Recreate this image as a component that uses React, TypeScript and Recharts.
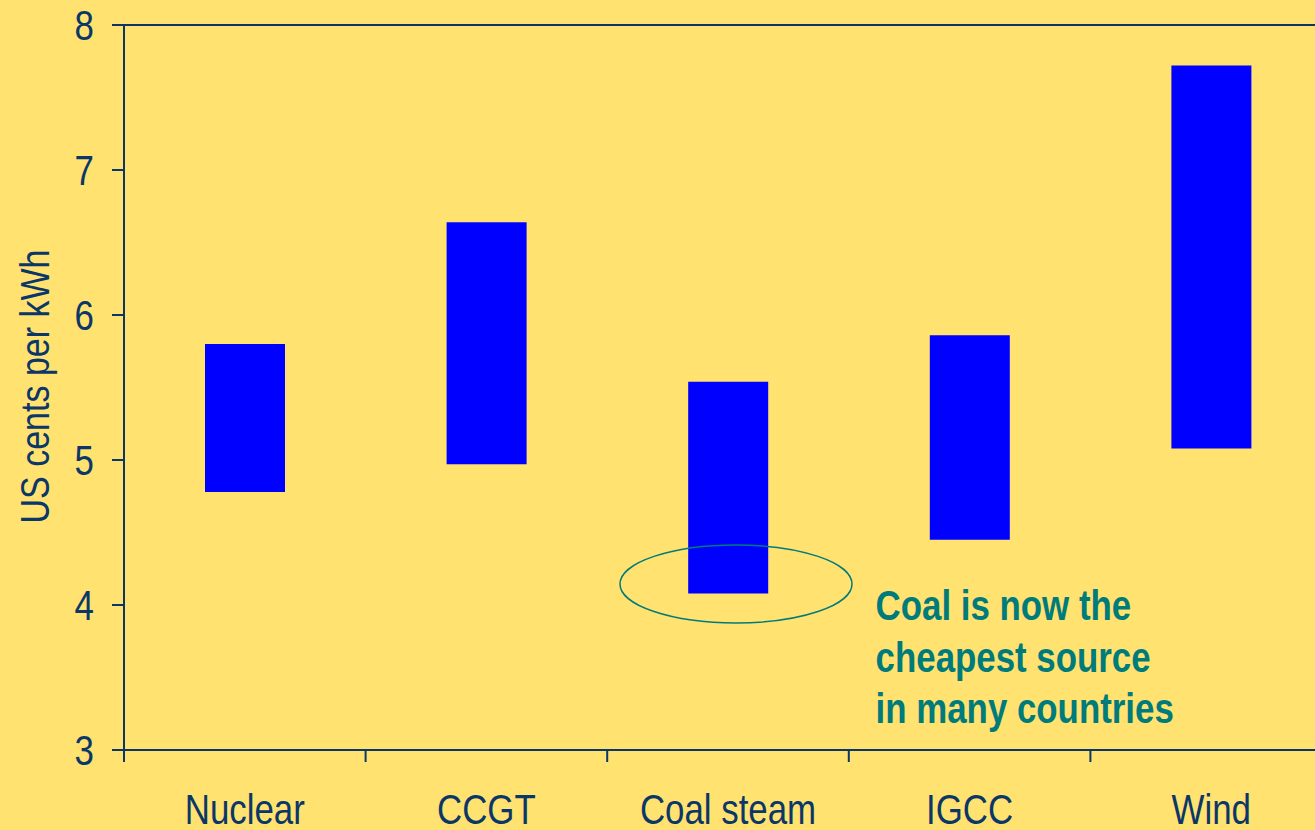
import React from 'react';
import { BarChart, Bar, XAxis, YAxis, ReferenceLine, ReferenceDot } from 'recharts';

const sources = ['Nuclear', 'CCGT', 'Coal steam', 'IGCC', 'Wind'];
const lowCost = [4.78, 4.97, 4.08, 4.45, 5.08];
const highCost = [5.8, 6.64, 5.54, 5.86, 7.72];
const yTicks = [3, 4, 5, 6, 7, 8];
const noteLines = ['Coal is now the', 'cheapest source', 'in many countries'];

const BG = '#FFE270';
const AXIS = '#0B3768';
const TEAL = '#007B7B';
const FONT = '"Liberation Sans", Arial, sans-serif';
const SQUEEZE = 0.83; // the original uses a narrow face

const CHART_W = 1332;
const PLOT_LEFT = 124;
const BAND = (CHART_W - PLOT_LEFT) / sources.length;

const data = sources.map((name, i) => ({ name, range: [lowCost[i], highCost[i]] }));

// narrow text: draw at the anchor and squeeze horizontally
const NarrowText = ({ x, y, anchor = 'start', size, fill, bold = false, rotate = 0, children }: any) => (
    <text
        transform={`translate(${x},${y}) rotate(${rotate}) scale(${SQUEEZE},1)`}
        textAnchor={anchor}
        fill={fill}
        fontSize={size}
        fontWeight={bold ? 'bold' : 'normal'}
        fontFamily={FONT}
    >
        {children}
    </text>
);

// category label with a tick mark on the left band boundary
const CatTick = (props: any) => {
    const { x, y, payload } = props;
    const left = x - BAND / 2;
    return (
        <g>
            <line x1={left} y1={y} x2={left} y2={y + 12} stroke={AXIS} strokeWidth={2} />
            <NarrowText x={x} y={y + 74} anchor="middle" size={42} fill={AXIS}>
                {payload.value}
            </NarrowText>
        </g>
    );
};

const ValTick = (props: any) => {
    const { x, y, payload } = props;
    return (
        <NarrowText x={x + 2} y={y + 15} anchor="end" size={42} fill={AXIS}>
            {payload.value}
        </NarrowText>
    );
};

const YLabel = (props: any) => {
    const vb = props.viewBox;
    return (
        <NarrowText x={49} y={vb.y + vb.height / 2 - 1} anchor="middle" size={41} fill={AXIS} rotate={-90}>
            US cents per kWh
        </NarrowText>
    );
};

const Ellipse = (props: any) => (
    <ellipse cx={props.cx + 8} cy={props.cy} rx={116} ry={39} fill="none" stroke={TEAL} strokeWidth={1.5} />
);

const App: React.FC = () => {
    return (
        <div style={{ position: 'absolute', left: 0, top: 0, width: 1315, height: 830, overflow: 'hidden', background: BG }}>
            <BarChart width={CHART_W} height={830} data={data} margin={{ top: 25, right: 0, bottom: 0, left: 0 }}>
                <XAxis
                    dataKey="name"
                    height={80}
                    tickSize={0}
                    tickMargin={0}
                    tickLine={false}
                    axisLine={{ stroke: AXIS, strokeWidth: 2 }}
                    tick={<CatTick />}
                    interval={0}
                />
                <YAxis
                    width={PLOT_LEFT}
                    domain={[3, 8]}
                    ticks={yTicks}
                    tickSize={12}
                    tickMargin={20}
                    axisLine={{ stroke: AXIS, strokeWidth: 2 }}
                    tickLine={{ stroke: AXIS, strokeWidth: 2 }}
                    tick={<ValTick />}
                    allowDataOverflow
                    label={<YLabel />}
                />
                <ReferenceLine y={8} stroke={AXIS} strokeWidth={2} />
                <ReferenceDot x="Coal steam" y={4.145} shape={<Ellipse />} />
                <Bar dataKey="range" fill="#0000FF" barSize={80} isAnimationActive={false} />
                {noteLines.map((line, i) => (
                    <ReferenceDot
                        key={line}
                        x="IGCC"
                        y={4}
                        shape={(p: any) => (
                            <NarrowText x={p.cx - 94} y={p.cy + 15 + i * 51.5} size={42} fill={TEAL} bold>
                                {line}
                            </NarrowText>
                        )}
                    />
                ))}
            </BarChart>
        </div>
    );
};

export default App;
